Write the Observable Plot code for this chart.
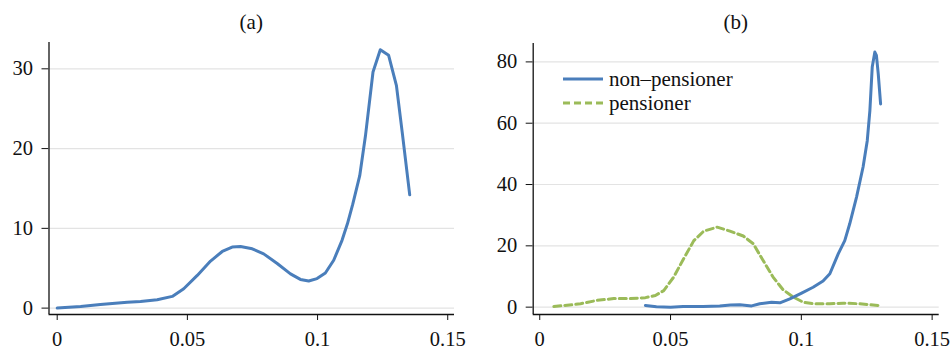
<!DOCTYPE html>
<html>
<head>
<meta charset="utf-8">
<script src="https://cdn.jsdelivr.net/npm/d3@7"></script>
<script src="https://cdn.jsdelivr.net/npm/@observablehq/plot@0.6"></script>
<style>
  html, body { margin: 0; padding: 0; background: #fff; }
  #wrap { position: relative; width: 951px; height: 351px; font-family: "Liberation Serif", serif; color: #111; }
  .panel { position: absolute; top: 0; width: 475px; height: 351px; }
  .panel svg { overflow: visible; }
  .panel svg text { font-family: "Liberation Serif", serif !important; font-size: 20.5px !important; }
  .title { position: absolute; top: 9px; height: 26px; line-height: 26px; font-size: 21px; text-align: center; }
  .legend { position: absolute; font-size: 21px; }
  .legend .row { display: flex; align-items: center; height: 24px; }
  .legend svg { display: block; margin-right: 6px; }
</style>
</head>
<body>
<div id="wrap"></div>
<script>
// Axis ticks shared by both panels
const xTicks = [0, 0.05, 0.1, 0.15];
const xTickLabels = ["0", "0.05", "0.1", "0.15"];
const yTicksA = [0, 10, 20, 30];
const yTicksB = [0, 20, 40, 60, 80];

// (a) density of all households
const rateA = [0, 0.009, 0.0166, 0.0269, 0.032, 0.0384, 0.0442, 0.0486, 0.0538, 0.0589, 0.0634, 0.0672, 0.0704, 0.0749, 0.0793, 0.0845, 0.0896, 0.0934, 0.0966, 0.0998, 0.103, 0.1062, 0.1094, 0.1115, 0.1135, 0.1162, 0.1184, 0.1213, 0.1241, 0.1273, 0.1303, 0.1325, 0.1354];
const densityA = [0, 0.2, 0.46, 0.75, 0.84, 1.05, 1.47, 2.43, 4.1, 5.9, 7.1, 7.65, 7.73, 7.44, 6.8, 5.6, 4.3, 3.6, 3.4, 3.7, 4.4, 6.0, 8.5, 10.6, 13.0, 16.6, 21.6, 29.6, 32.4, 31.7, 27.9, 22.1, 14.2];

// (b) densities by pension status
const seriesNames = ["non\u2013pensioner", "pensioner"];
const seriesColors = ["#4a7ebb", "#9bbb59"];
const nonPensionerRate = [0.0404, 0.0446, 0.05, 0.0548, 0.0625, 0.0688, 0.0729, 0.0765, 0.081, 0.0841, 0.0886, 0.0918, 0.0956, 0.1001, 0.1045, 0.1083, 0.1109, 0.1141, 0.1166, 0.1185, 0.1211, 0.1236, 0.1252, 0.1262, 0.1271, 0.1281, 0.1287, 0.1294, 0.1303];
const nonPensionerDensity = [0.55, 0.1, 0, 0.2, 0.2, 0.4, 0.7, 0.8, 0.4, 1.1, 1.6, 1.4, 2.7, 4.6, 6.5, 8.5, 10.9, 17.4, 21.7, 27.2, 35.9, 45.7, 54.3, 64.1, 78.3, 83.2, 82.1, 76.1, 66.3];
const pensionerRate = [0.0054, 0.0127, 0.0156, 0.0219, 0.0283, 0.0347, 0.0404, 0.0442, 0.0474, 0.0512, 0.055, 0.0589, 0.0627, 0.0678, 0.0727, 0.0778, 0.0816, 0.0854, 0.0892, 0.093, 0.0969, 0.1007, 0.1045, 0.1109, 0.116, 0.1224, 0.13];
const pensionerDensity = [0.2, 0.8, 1.1, 2.2, 2.8, 2.8, 3.1, 3.8, 5.4, 9.8, 15.8, 21.7, 24.8, 26.1, 24.8, 23.2, 20.7, 15.2, 9.8, 5.7, 3.3, 1.6, 1.1, 1.1, 1.3, 1.1, 0.5];

const toRows = (xs, ys) => xs.map((x, i) => ({x, y: ys[i]}));

function panel({left, title, xDomain, yDomain, yTicks, margins, lines}) {
  const div = document.createElement("div");
  div.className = "panel";
  div.style.left = left + "px";
  const [mt, mr, mb, ml] = margins;
  const chart = Plot.plot({
    width: 475,
    height: 351,
    marginTop: mt, marginRight: mr, marginBottom: mb, marginLeft: ml,
    style: {fontFamily: "'Liberation Serif', serif", fontSize: "20.5px", color: "#111", background: "transparent", overflow: "visible"},
    x: {domain: xDomain, ticks: xTicks, tickFormat: (d, i) => xTickLabels[i], tickSize: 6, tickPadding: 11, label: null},
    y: {domain: yDomain, ticks: yTicks, tickSize: 7, tickPadding: 9, label: null},
    marks: [
      Plot.ruleY(yTicks, {stroke: "#e3e3e3", strokeWidth: 1.2}),
      ...lines.map(l => Plot.line(toRows(l.x, l.y), {x: "x", y: "y", stroke: l.color, strokeWidth: 3, strokeDasharray: l.dash, curve: "linear"})),
      Plot.ruleX([xDomain[0]], {stroke: "#111", strokeWidth: 1.3}),
      Plot.ruleY([yDomain[0]], {stroke: "#111", strokeWidth: 1.3})
    ]
  });
  div.appendChild(chart);
  const t = document.createElement("div");
  t.className = "title";
  t.textContent = title;
  t.style.left = ml + "px";
  t.style.width = (475 - ml - mr) + "px";
  div.appendChild(t);
  document.getElementById("wrap").appendChild(div);
  return div;
}

panel({
  left: 0, title: "(a)",
  xDomain: [-0.00315, 0.1526], yDomain: [-0.8, 33.3], yTicks: yTicksA,
  margins: [42, 21, 37, 48.5],
  lines: [{x: rateA, y: densityA, color: seriesColors[0], dash: null}]
});

panel({
  left: 476, title: "(b)",
  xDomain: [-0.0025, 0.1527], yDomain: [-2.4, 86], yTicks: yTicksB,
  margins: [43, 12.3, 37, 56.7],
  lines: [
    {x: pensionerRate, y: pensionerDensity, color: seriesColors[1], dash: "7,4"},
    {x: nonPensionerRate, y: nonPensionerDensity, color: seriesColors[0], dash: null}
  ]
});

// Legend for panel (b)
const legend = document.createElement("div");
legend.className = "legend";
legend.style.left = "563px";
legend.style.top = "67px";
seriesNames.forEach((name, i) => {
  const row = document.createElement("div");
  row.className = "row";
  const dash = i === 1 ? ' stroke-dasharray="7,4"' : "";
  row.innerHTML = `<svg width="40" height="24"><line x1="0" x2="40" y1="12" y2="12" stroke="${seriesColors[i]}" stroke-width="3"${dash}/></svg><span>${name}</span>`;
  legend.appendChild(row);
});
document.getElementById("wrap").appendChild(legend);
</script>
</body>
</html>
